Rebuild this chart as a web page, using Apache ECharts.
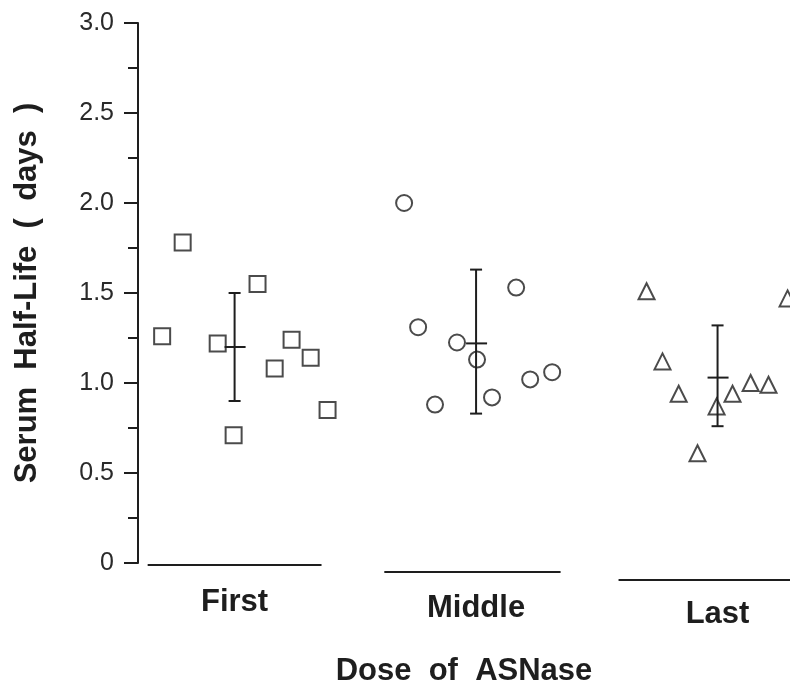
<!DOCTYPE html>
<html>
<head>
<meta charset="utf-8">
<script src="https://cdn.jsdelivr.net/npm/echarts@6/dist/echarts.min.js"></script>
<style>
html,body{margin:0;padding:0;background:#fff;}
#chart{width:790px;height:693px;}
</style>
</head>
<body>
<div id="chart"></div>
<script>
// ---- data ----
const categories = ['First', 'Middle', 'Last'];
const yTickLabels = ['0', '0.5', '1.0', '1.5', '2.0', '2.5', '3.0'];

// x positions: group index (1,2,3) plus horizontal jitter
const firstX   = [0.700, 0.785, 0.930, 0.996, 1.095, 1.166, 1.236, 1.315, 1.385];
const firstY   = [1.26, 1.78, 1.22, 0.71, 1.55, 1.08, 1.24, 1.14, 0.85];
const middleX  = [1.702, 1.760, 1.830, 1.921, 2.004, 2.066, 2.166, 2.224, 2.315];
const middleY  = [2.00, 1.31, 0.88, 1.225, 1.13, 0.92, 1.53, 1.02, 1.06];
const lastX    = [2.706, 2.772, 2.839, 2.917, 2.996, 3.062, 3.137, 3.211, 3.290];
const lastY    = [1.51, 1.12, 0.94, 0.61, 0.87, 0.94, 1.00, 0.99, 1.47];

const groupCenter = [1, 2, 3];
const groupMean   = [1.20, 1.22, 1.03];
const groupLow    = [0.90, 0.83, 0.76];
const groupHigh   = [1.50, 1.63, 1.32];

// ---- style ----
const INK = '#1e1e1e';
const FONT = '"Liberation Sans", Arial, Helvetica, sans-serif';
const baseSpan = [[-0.36, 0.36], [-0.38, 0.35], [-0.41, 0.32]];
const baseDrop = [2, 9, 17];      // scan tilt of the group baselines (px)
const labelDrop = [0, 6, 12];     // scan tilt of the group labels (px)

const pts = (xs, ys) => xs.map((x, i) => [x, ys[i]]);
const errData = groupCenter.map((c, i) => [c, groupLow[i], groupHigh[i], groupMean[i]]);
const baseData = groupCenter.map((c, i) => [c + baseSpan[i][0], c + baseSpan[i][1], i]);

const labelRich = {};
labelDrop.forEach((d, i) => {
  labelRich['g' + i] = {fontFamily: FONT, fontSize: 31, fontWeight: 'bold', color: INK, padding: [d, 0, 0, 0]};
});

const chart = echarts.init(document.getElementById('chart'), null, {renderer: 'canvas'});

const markerStyle = {color: '#fff', borderColor: INK, borderWidth: 2};

chart.setOption({
  backgroundColor: '#fff',
  animation: false,
  grid: {left: 138, right: 0, top: 23, bottom: 130, containLabel: false},
  xAxis: {
    type: 'value', min: 0.6, max: 3.3,
    axisLine: {show: false},
    axisTick: {show: false},
    splitLine: {show: false},
    axisLabel: {
      customValues: [1, 2, 3],
      formatter: v => {
        const i = Math.round(v) - 1;
        return categories[i] ? '{g' + i + '|' + categories[i] + '}' : '';
      },
      rich: labelRich,
      margin: 24,
      fontFamily: FONT, fontSize: 31, fontWeight: 'bold', color: INK
    },
    name: 'Dose  of  ASNase',
    nameLocation: 'middle',
    nameGap: 93,
    nameTextStyle: {fontFamily: FONT, fontSize: 31, fontWeight: 'bold', color: INK}
  },
  yAxis: {
    type: 'value', min: 0, max: 3, interval: 0.5,
    axisLine: {show: true, lineStyle: {color: INK, width: 2}},
    axisTick: {show: true, length: 14, lineStyle: {color: INK, width: 2}},
    minorTick: {show: true, splitNumber: 2, length: 10, lineStyle: {color: INK, width: 2}},
    splitLine: {show: false},
    axisLabel: {
      formatter: v => yTickLabels[Math.round(v * 2)],
      margin: 24,
      fontFamily: FONT, fontSize: 25, color: '#2a2a2a'
    },
    name: 'Serum  Half-Life  (  days  )',
    nameLocation: 'middle',
    nameRotate: 90,
    nameGap: 95,
    nameTextStyle: {fontFamily: FONT, fontSize: 31, fontWeight: 'bold', color: INK}
  },
  series: [
    {
      type: 'scatter', name: 'First', symbol: 'rect', symbolSize: 16,
      itemStyle: markerStyle, data: pts(firstX, firstY), z: 3
    },
    {
      type: 'scatter', name: 'Middle', symbol: 'circle', symbolSize: 16,
      itemStyle: markerStyle, data: pts(middleX, middleY), z: 3
    },
    {
      type: 'scatter', name: 'Last', symbol: 'triangle', symbolSize: 16,
      itemStyle: markerStyle, data: pts(lastX, lastY), z: 3
    },
    {
      type: 'custom', name: 'mean ± SD', z: 4,
      data: errData,
      renderItem: (params, api) => {
        const x = api.value(0);
        const lo = api.coord([x, api.value(1)]);
        const hi = api.coord([x, api.value(2)]);
        const mn = api.coord([x, api.value(3)]);
        const st = {stroke: INK, lineWidth: 2};
        return {
          type: 'group',
          children: [
            {type: 'line', shape: {x1: lo[0], y1: lo[1], x2: hi[0], y2: hi[1]}, style: st},
            {type: 'line', shape: {x1: hi[0] - 6, y1: hi[1], x2: hi[0] + 6, y2: hi[1]}, style: st},
            {type: 'line', shape: {x1: lo[0] - 6, y1: lo[1], x2: lo[0] + 6, y2: lo[1]}, style: st},
            {type: 'line', shape: {x1: mn[0] - 10, y1: mn[1], x2: mn[0] + 11, y2: mn[1]}, style: st}
          ]
        };
      }
    },
    {
      type: 'custom', name: 'baselines', z: 2, clip: false,
      data: baseData,
      renderItem: (params, api) => {
        const a = api.coord([api.value(0), 0]);
        const b = api.coord([api.value(1), 0]);
        const d = baseDrop[api.value(2)];
        return {
          type: 'line',
          shape: {x1: a[0], y1: a[1] + d, x2: b[0], y2: b[1] + d},
          style: {stroke: INK, lineWidth: 2}
        };
      }
    }
  ]
});
</script>
</body>
</html>
